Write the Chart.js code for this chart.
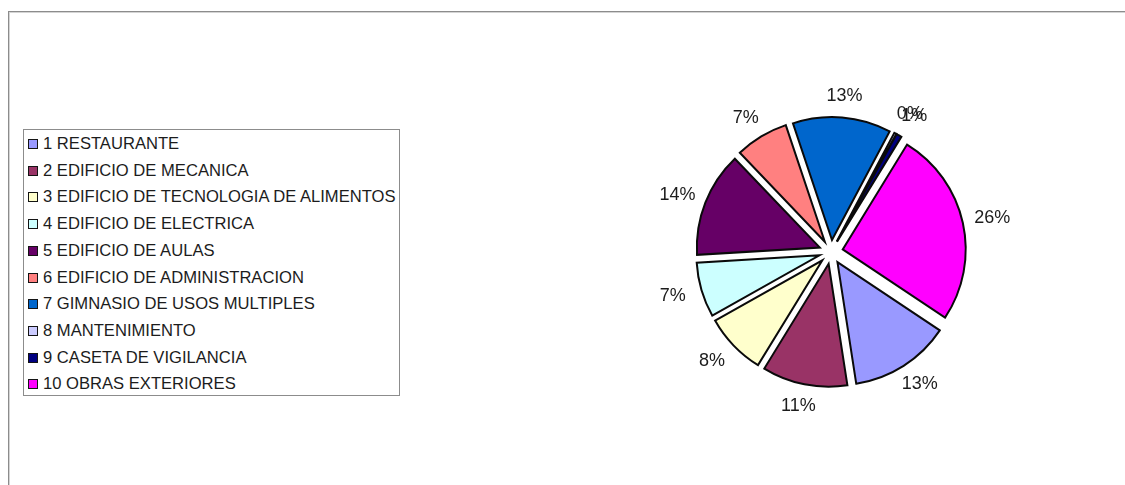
<!DOCTYPE html>
<html>
<head>
<meta charset="utf-8">
<script src="https://cdn.jsdelivr.net/npm/chart.js@4.4.1/dist/chart.umd.min.js"></script>
<style>
  html, body { margin: 0; padding: 0; background: #ffffff; }
  #wrap { position: relative; width: 1125px; height: 485px; overflow: hidden; background: #fff; }
  #frame { position: absolute; left: 8px; top: 11px; width: 1130px; height: 490px;
           border-left: 1px solid #8c8c8c; border-top: 1px solid #8c8c8c;
           box-shadow: inset 1px 1px 0 #d4d4d4; }
  #chart { position: absolute; left: 0; top: 0; }
  #legend { position: absolute; left: 23px; top: 129px; width: 377px; height: 267px;
            box-sizing: border-box; border: 1px solid #8c8c8c; background: #fff;
            font-family: "Liberation Sans", Arial, sans-serif; font-size: 16.6px; color: #1c1c1c; }
  .item { position: absolute; left: 4px; height: 18px; line-height: 18px; white-space: nowrap; }
  .sw { display: inline-block; box-sizing: border-box; width: 10px; height: 10px;
        border: 1.5px solid #141414; margin-right: 5px; vertical-align: 0px; }
</style>
</head>
<body>
<div id="wrap">
  <div id="frame"></div>
  <canvas id="chart" width="1125" height="485"></canvas>
  <div id="legend"></div>
</div>
<script>
// Cost share by building (percent of total)
const categories = [
  "1 RESTAURANTE",
  "2 EDIFICIO DE MECANICA",
  "3 EDIFICIO DE TECNOLOGIA DE ALIMENTOS",
  "4 EDIFICIO DE ELECTRICA",
  "5 EDIFICIO DE AULAS",
  "6 EDIFICIO DE ADMINISTRACION",
  "7 GIMNASIO DE USOS MULTIPLES",
  "8 MANTENIMIENTO",
  "9 CASETA DE VIGILANCIA",
  "10 OBRAS EXTERIORES"
];
const shares = [13.2, 11.2, 8.1, 7.2, 13.8, 7.0, 12.9, 0.3, 0.7, 25.6];
const sliceColors = [
  "#9999FF", "#993366", "#FFFFCC", "#CCFFFF", "#660066",
  "#FF8080", "#0066CC", "#CCCCFF", "#000080", "#FF00FF"
];

// How far every slice is pulled out from the centre (px)
const EXPLODE = 12;

// Legend box
const legendEl = document.getElementById("legend");
categories.forEach((name, i) => {
  const row = document.createElement("div");
  row.className = "item";
  row.style.top = (5 + i * 26.7) + "px";
  const sw = document.createElement("span");
  sw.className = "sw";
  sw.style.background = sliceColors[i];
  row.appendChild(sw);
  row.appendChild(document.createTextNode(name));
  legendEl.appendChild(row);
});

// Draw each arc shifted outward along its bisector (uniform explosion)
const explodedSlices = {
  id: "explodedSlices",
  beforeDatasetDraw(chart, args) {
    const ctx = chart.ctx;
    args.meta.data.forEach(arc => {
      const p = arc.getProps(["startAngle", "endAngle"], true);
      const mid = (p.startAngle + p.endAngle) / 2;
      ctx.save();
      ctx.translate(Math.cos(mid) * EXPLODE, Math.sin(mid) * EXPLODE);
      arc.draw(ctx, chart.chartArea);
      ctx.restore();
    });
    return false;
  }
};

// Percentage labels placed just outside each slice
const outsideLabels = {
  id: "outsideLabels",
  afterDatasetsDraw(chart) {
    const ctx = chart.ctx;
    const meta = chart.getDatasetMeta(0);
    const data = chart.data.datasets[0].data;
    const total = data.reduce((a, b) => a + b, 0);
    ctx.save();
    ctx.font = '18px "Liberation Sans", Arial, sans-serif';
    ctx.fillStyle = "#1c1c1c";
    ctx.textAlign = "center";
    ctx.textBaseline = "middle";
    meta.data.forEach((arc, i) => {
      const p = arc.getProps(["x", "y", "startAngle", "endAngle", "outerRadius"], true);
      const mid = (p.startAngle + p.endAngle) / 2;
      const base = p.outerRadius + EXPLODE;
      const text = Math.round(data[i] / total * 100) + "%";
      ctx.fillText(text, p.x + Math.cos(mid) * (base + 30), p.y + Math.sin(mid) * (base + 22));
    });
    ctx.restore();
  }
};

new Chart(document.getElementById("chart"), {
  type: "pie",
  data: {
    labels: categories,
    datasets: [{
      data: shares,
      backgroundColor: sliceColors,
      borderColor: "#0a0a0a",
      borderWidth: 2,
      borderJoinStyle: "miter",
      radius: 123
    }]
  },
  options: {
    responsive: false,
    animation: false,
    rotation: 123.7,
    layout: { padding: { left: 600, right: 63, top: 60, bottom: 41 } },
    plugins: {
      legend: { display: false },
      tooltip: { enabled: false }
    }
  },
  plugins: [explodedSlices, outsideLabels]
});
</script>
</body>
</html>
